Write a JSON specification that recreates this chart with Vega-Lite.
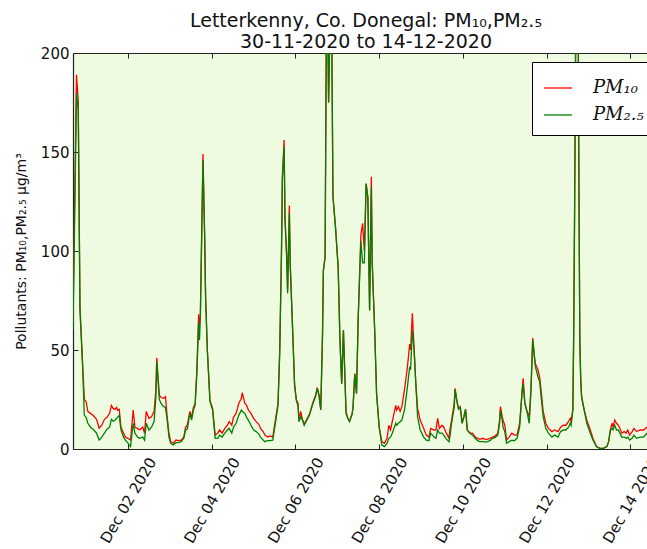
{
"$schema": "https://vega.github.io/schema/vega-lite/v6.json",
"width": 574, "height": 396,
"autosize": {"type": "none"},
"padding": {"left": 73, "top": 53, "right": 0, "bottom": 100},
"background": "white",
"config": {
  "view": {"fill": "#effbe1", "stroke": null},
  "font": "DejaVu Sans",
  "axis": {"domainColor": "#222", "domainWidth": 1.2, "tickColor": "#222", "labelColor": "#111", "labelFont": "DejaVu Sans", "labelFontSize": 15, "grid": false, "tickSize": -5, "labelFlush": false, "labelOverlap": false}
},
"title": {"text": ["Letterkenny, Co. Donegal: PM₁₀,PM₂.₅", "30-11-2020 to 14-12-2020"], "fontSize": 19, "fontWeight": "normal", "font": "DejaVu Sans", "lineHeight": 21, "offset": 3, "dx": 6, "dy": 9, "color": "#111"},
"data": {"values": [
{"t":"2020-11-30T16:30","pm10":65,"pm25":60},
{"t":"2020-11-30T18:30","pm10":189,"pm25":180},
{"t":"2020-11-30T19:30","pm10":176,"pm25":171},
{"t":"2020-11-30T20:30","pm10":72,"pm25":70},
{"t":"2020-11-30T22:00","pm10":43,"pm25":42},
{"t":"2020-11-30T23:00","pm10":25,"pm25":17},
{"t":"2020-12-01T00:00","pm10":24,"pm25":16},
{"t":"2020-12-01T01:00","pm10":19,"pm25":13},
{"t":"2020-12-01T02:30","pm10":18,"pm25":11},
{"t":"2020-12-01T04:00","pm10":17,"pm25":10},
{"t":"2020-12-01T06:00","pm10":15,"pm25":8},
{"t":"2020-12-01T07:30","pm10":10.5,"pm25":4.5},
{"t":"2020-12-01T09:00","pm10":12,"pm25":6},
{"t":"2020-12-01T10:30","pm10":15,"pm25":8},
{"t":"2020-12-01T12:00","pm10":16,"pm25":10},
{"t":"2020-12-01T13:30","pm10":18,"pm25":11},
{"t":"2020-12-01T14:30","pm10":22,"pm25":15},
{"t":"2020-12-01T15:30","pm10":20.5,"pm25":14},
{"t":"2020-12-01T16:30","pm10":20,"pm25":14.5},
{"t":"2020-12-01T17:30","pm10":21,"pm25":15.5},
{"t":"2020-12-01T18:00","pm10":19.5,"pm25":16},
{"t":"2020-12-01T19:00","pm10":20,"pm25":17},
{"t":"2020-12-01T20:00","pm10":11,"pm25":9.5},
{"t":"2020-12-01T21:30","pm10":8,"pm25":6},
{"t":"2020-12-01T22:30","pm10":6,"pm25":4.5},
{"t":"2020-12-02T00:00","pm10":5.4,"pm25":3},
{"t":"2020-12-02T01:30","pm10":4.5,"pm25":1.2},
{"t":"2020-12-02T03:00","pm10":19.7,"pm25":13},
{"t":"2020-12-02T04:00","pm10":11,"pm25":8},
{"t":"2020-12-02T05:30","pm10":10.4,"pm25":6},
{"t":"2020-12-02T06:30","pm10":9.6,"pm25":5.4},
{"t":"2020-12-02T08:30","pm10":11,"pm25":6},
{"t":"2020-12-02T09:30","pm10":8,"pm25":4.5},
{"t":"2020-12-02T10:30","pm10":19,"pm25":13},
{"t":"2020-12-02T12:00","pm10":15.5,"pm25":9.6},
{"t":"2020-12-02T13:30","pm10":16.3,"pm25":11},
{"t":"2020-12-02T15:00","pm10":19,"pm25":14},
{"t":"2020-12-02T16:00","pm10":30,"pm25":26},
{"t":"2020-12-02T16:30","pm10":46,"pm25":44},
{"t":"2020-12-02T18:00","pm10":27,"pm25":25},
{"t":"2020-12-02T19:00","pm10":26,"pm25":23},
{"t":"2020-12-02T20:30","pm10":25.6,"pm25":21.4},
{"t":"2020-12-02T21:30","pm10":26.4,"pm25":21},
{"t":"2020-12-02T22:30","pm10":16,"pm25":14.6},
{"t":"2020-12-02T23:30","pm10":8,"pm25":6},
{"t":"2020-12-03T00:30","pm10":3.7,"pm25":2.9},
{"t":"2020-12-03T02:00","pm10":2.9,"pm25":2},
{"t":"2020-12-03T03:30","pm10":4.5,"pm25":3.2},
{"t":"2020-12-03T05:00","pm10":4.2,"pm25":3.2},
{"t":"2020-12-03T06:30","pm10":4.5,"pm25":3.7},
{"t":"2020-12-03T08:00","pm10":6,"pm25":5.4},
{"t":"2020-12-03T09:00","pm10":11,"pm25":9.6},
{"t":"2020-12-03T10:00","pm10":12,"pm25":10},
{"t":"2020-12-03T11:30","pm10":19,"pm25":18},
{"t":"2020-12-03T12:30","pm10":16,"pm25":14.6},
{"t":"2020-12-03T13:30","pm10":21,"pm25":19.7},
{"t":"2020-12-03T14:30","pm10":23,"pm25":22},
{"t":"2020-12-03T15:30","pm10":40,"pm25":38},
{"t":"2020-12-03T16:30","pm10":68,"pm25":63.5},
{"t":"2020-12-03T17:00","pm10":62,"pm25":55},
{"t":"2020-12-03T17:30","pm10":67,"pm25":67},
{"t":"2020-12-03T19:00","pm10":149,"pm25":146},
{"t":"2020-12-03T20:00","pm10":107,"pm25":105},
{"t":"2020-12-03T20:30","pm10":77,"pm25":76},
{"t":"2020-12-03T21:30","pm10":50,"pm25":50},
{"t":"2020-12-03T23:00","pm10":24.7,"pm25":24},
{"t":"2020-12-04T00:30","pm10":20.5,"pm25":19.7},
{"t":"2020-12-04T02:00","pm10":7,"pm25":5.4},
{"t":"2020-12-04T03:30","pm10":8,"pm25":5.4},
{"t":"2020-12-04T04:30","pm10":9.6,"pm25":7},
{"t":"2020-12-04T06:00","pm10":8,"pm25":6},
{"t":"2020-12-04T07:30","pm10":10.4,"pm25":8},
{"t":"2020-12-04T09:00","pm10":12,"pm25":9.6},
{"t":"2020-12-04T10:00","pm10":13.8,"pm25":10.4},
{"t":"2020-12-04T11:30","pm10":12,"pm25":8},
{"t":"2020-12-04T12:30","pm10":16,"pm25":11},
{"t":"2020-12-04T14:00","pm10":18,"pm25":13},
{"t":"2020-12-04T15:30","pm10":23,"pm25":17},
{"t":"2020-12-04T17:00","pm10":25.6,"pm25":19.7},
{"t":"2020-12-04T17:30","pm10":28.5,"pm25":19},
{"t":"2020-12-04T19:00","pm10":23,"pm25":18},
{"t":"2020-12-04T20:00","pm10":22,"pm25":16},
{"t":"2020-12-04T21:00","pm10":19.7,"pm25":14.6},
{"t":"2020-12-04T22:30","pm10":18,"pm25":12},
{"t":"2020-12-05T00:00","pm10":15.5,"pm25":9.6},
{"t":"2020-12-05T01:30","pm10":13.8,"pm25":8.8},
{"t":"2020-12-05T03:00","pm10":12.5,"pm25":7.5},
{"t":"2020-12-05T04:00","pm10":10.4,"pm25":6},
{"t":"2020-12-05T05:30","pm10":8.8,"pm25":4.5},
{"t":"2020-12-05T06:30","pm10":7,"pm25":3.7},
{"t":"2020-12-05T08:00","pm10":6,"pm25":4.2},
{"t":"2020-12-05T09:30","pm10":6.6,"pm25":4.2},
{"t":"2020-12-05T11:00","pm10":6,"pm25":4.5},
{"t":"2020-12-05T12:30","pm10":14.6,"pm25":13},
{"t":"2020-12-05T14:00","pm10":23,"pm25":22},
{"t":"2020-12-05T15:00","pm10":50,"pm25":49},
{"t":"2020-12-05T16:00","pm10":100,"pm25":99},
{"t":"2020-12-05T16:30","pm10":137.5,"pm25":136},
{"t":"2020-12-05T17:30","pm10":156,"pm25":152.7},
{"t":"2020-12-05T18:00","pm10":117,"pm25":116},
{"t":"2020-12-05T19:00","pm10":97,"pm25":96},
{"t":"2020-12-05T19:30","pm10":80,"pm25":78.6},
{"t":"2020-12-05T20:30","pm10":123,"pm25":119},
{"t":"2020-12-05T21:00","pm10":94,"pm25":93},
{"t":"2020-12-05T22:30","pm10":58,"pm25":57},
{"t":"2020-12-05T23:30","pm10":33,"pm25":32},
{"t":"2020-12-06T00:30","pm10":25,"pm25":24.7},
{"t":"2020-12-06T01:30","pm10":23,"pm25":21.4},
{"t":"2020-12-06T02:00","pm10":14.5,"pm25":13.8},
{"t":"2020-12-06T03:00","pm10":19,"pm25":16.3},
{"t":"2020-12-06T04:00","pm10":15,"pm25":14.6},
{"t":"2020-12-06T05:00","pm10":12.5,"pm25":12},
{"t":"2020-12-06T06:30","pm10":15,"pm25":14.6},
{"t":"2020-12-06T08:00","pm10":17.5,"pm25":17},
{"t":"2020-12-06T10:00","pm10":23.5,"pm25":23},
{"t":"2020-12-06T11:30","pm10":27,"pm25":26.4},
{"t":"2020-12-06T12:30","pm10":31,"pm25":30.6},
{"t":"2020-12-06T13:30","pm10":27.5,"pm25":27},
{"t":"2020-12-06T14:30","pm10":20,"pm25":19.7},
{"t":"2020-12-06T15:30","pm10":57,"pm25":57},
{"t":"2020-12-06T16:00","pm10":90,"pm25":90},
{"t":"2020-12-06T17:00","pm10":97,"pm25":97},
{"t":"2020-12-06T18:00","pm10":260,"pm25":258},
{"t":"2020-12-06T19:00","pm10":175,"pm25":175},
{"t":"2020-12-06T20:30","pm10":250,"pm25":248},
{"t":"2020-12-06T21:30","pm10":128,"pm25":127},
{"t":"2020-12-06T23:00","pm10":112,"pm25":111},
{"t":"2020-12-07T00:30","pm10":92,"pm25":91},
{"t":"2020-12-07T01:30","pm10":55,"pm25":55},
{"t":"2020-12-07T02:30","pm10":33,"pm25":33},
{"t":"2020-12-07T03:30","pm10":60,"pm25":60},
{"t":"2020-12-07T05:00","pm10":19,"pm25":18},
{"t":"2020-12-07T06:00","pm10":15.5,"pm25":15.5},
{"t":"2020-12-07T07:00","pm10":14,"pm25":13.8},
{"t":"2020-12-07T08:30","pm10":18,"pm25":17.5},
{"t":"2020-12-07T09:00","pm10":21,"pm25":21},
{"t":"2020-12-07T10:00","pm10":38,"pm25":38},
{"t":"2020-12-07T11:00","pm10":28,"pm25":28},
{"t":"2020-12-07T12:00","pm10":67,"pm25":67},
{"t":"2020-12-07T13:30","pm10":108,"pm25":105},
{"t":"2020-12-07T14:30","pm10":114,"pm25":94},
{"t":"2020-12-07T15:30","pm10":100,"pm25":94},
{"t":"2020-12-07T16:30","pm10":134,"pm25":134},
{"t":"2020-12-07T17:30","pm10":127,"pm25":127},
{"t":"2020-12-07T18:30","pm10":70,"pm25":70},
{"t":"2020-12-07T19:30","pm10":137.5,"pm25":132},
{"t":"2020-12-07T20:00","pm10":94,"pm25":94},
{"t":"2020-12-07T21:30","pm10":58,"pm25":58},
{"t":"2020-12-07T22:30","pm10":28,"pm25":28},
{"t":"2020-12-08T00:00","pm10":11,"pm25":11},
{"t":"2020-12-08T01:30","pm10":3.7,"pm25":2},
{"t":"2020-12-08T03:00","pm10":2.9,"pm25":1.2},
{"t":"2020-12-08T04:30","pm10":5.4,"pm25":2.9},
{"t":"2020-12-08T05:30","pm10":12,"pm25":5.4},
{"t":"2020-12-08T06:30","pm10":9.6,"pm25":6},
{"t":"2020-12-08T07:30","pm10":13.8,"pm25":8},
{"t":"2020-12-08T09:30","pm10":22,"pm25":13},
{"t":"2020-12-08T10:00","pm10":19.7,"pm25":12},
{"t":"2020-12-08T11:00","pm10":21.4,"pm25":13},
{"t":"2020-12-08T12:00","pm10":19,"pm25":13.8},
{"t":"2020-12-08T13:00","pm10":21.4,"pm25":14.6},
{"t":"2020-12-08T14:30","pm10":30,"pm25":19.7},
{"t":"2020-12-08T16:00","pm10":40,"pm25":30},
{"t":"2020-12-08T17:30","pm10":53,"pm25":41.6},
{"t":"2020-12-08T18:00","pm10":50,"pm25":40},
{"t":"2020-12-08T19:00","pm10":68.5,"pm25":60},
{"t":"2020-12-08T20:00","pm10":51,"pm25":50},
{"t":"2020-12-08T21:00","pm10":33,"pm25":33},
{"t":"2020-12-08T22:00","pm10":20.5,"pm25":16.3},
{"t":"2020-12-08T23:30","pm10":14.6,"pm25":9.6},
{"t":"2020-12-09T01:30","pm10":10.4,"pm25":6},
{"t":"2020-12-09T03:00","pm10":7,"pm25":4.5},
{"t":"2020-12-09T04:30","pm10":6,"pm25":4.2},
{"t":"2020-12-09T05:30","pm10":10.4,"pm25":8},
{"t":"2020-12-09T07:30","pm10":9.6,"pm25":6},
{"t":"2020-12-09T08:30","pm10":9.6,"pm25":5.4},
{"t":"2020-12-09T09:30","pm10":15.5,"pm25":9.6},
{"t":"2020-12-09T10:30","pm10":10.4,"pm25":8},
{"t":"2020-12-09T12:00","pm10":12,"pm25":8},
{"t":"2020-12-09T13:00","pm10":11,"pm25":7},
{"t":"2020-12-09T14:30","pm10":8,"pm25":5},
{"t":"2020-12-09T16:00","pm10":5.4,"pm25":3.7},
{"t":"2020-12-09T16:30","pm10":9.6,"pm25":6},
{"t":"2020-12-09T17:30","pm10":14.6,"pm25":13},
{"t":"2020-12-09T19:00","pm10":23,"pm25":21},
{"t":"2020-12-09T19:30","pm10":30.6,"pm25":30},
{"t":"2020-12-09T20:30","pm10":24.7,"pm25":24},
{"t":"2020-12-09T21:30","pm10":20.5,"pm25":20},
{"t":"2020-12-09T22:30","pm10":21.4,"pm25":21},
{"t":"2020-12-09T23:30","pm10":13,"pm25":13},
{"t":"2020-12-10T00:30","pm10":16.3,"pm25":16},
{"t":"2020-12-10T01:30","pm10":20,"pm25":20},
{"t":"2020-12-10T02:30","pm10":9.6,"pm25":9.6},
{"t":"2020-12-10T04:00","pm10":8,"pm25":8},
{"t":"2020-12-10T05:30","pm10":8,"pm25":7},
{"t":"2020-12-10T07:00","pm10":6,"pm25":5.4},
{"t":"2020-12-10T08:30","pm10":5.4,"pm25":4.2},
{"t":"2020-12-10T09:30","pm10":4.9,"pm25":3.7},
{"t":"2020-12-10T11:30","pm10":5.4,"pm25":3.7},
{"t":"2020-12-10T13:00","pm10":4.9,"pm25":3.5},
{"t":"2020-12-10T14:00","pm10":4.9,"pm25":3.7},
{"t":"2020-12-10T15:30","pm10":5.4,"pm25":4.2},
{"t":"2020-12-10T17:00","pm10":6,"pm25":5.4},
{"t":"2020-12-10T18:30","pm10":6.6,"pm25":5.9},
{"t":"2020-12-10T20:00","pm10":8,"pm25":7},
{"t":"2020-12-10T21:00","pm10":14.6,"pm25":13},
{"t":"2020-12-10T21:30","pm10":21.4,"pm25":19.7},
{"t":"2020-12-10T22:30","pm10":16.3,"pm25":14.6},
{"t":"2020-12-10T23:00","pm10":14.6,"pm25":11},
{"t":"2020-12-11T00:00","pm10":12,"pm25":8.8},
{"t":"2020-12-11T01:00","pm10":4.5,"pm25":2.9},
{"t":"2020-12-11T02:30","pm10":6,"pm25":3.7},
{"t":"2020-12-11T04:00","pm10":8,"pm25":4.5},
{"t":"2020-12-11T05:30","pm10":7,"pm25":4.2},
{"t":"2020-12-11T07:00","pm10":7,"pm25":5.4},
{"t":"2020-12-11T08:30","pm10":13,"pm25":11},
{"t":"2020-12-11T10:00","pm10":30,"pm25":30},
{"t":"2020-12-11T10:30","pm10":35.7,"pm25":33},
{"t":"2020-12-11T11:30","pm10":23,"pm25":23},
{"t":"2020-12-11T12:30","pm10":19.7,"pm25":19.7},
{"t":"2020-12-11T14:00","pm10":16.3,"pm25":13},
{"t":"2020-12-11T15:00","pm10":30,"pm25":30},
{"t":"2020-12-11T16:00","pm10":56,"pm25":55},
{"t":"2020-12-11T17:00","pm10":46.6,"pm25":46},
{"t":"2020-12-11T17:30","pm10":43,"pm25":41.6},
{"t":"2020-12-11T19:00","pm10":40,"pm25":36.5},
{"t":"2020-12-11T20:00","pm10":36,"pm25":34},
{"t":"2020-12-11T21:00","pm10":28,"pm25":24.7},
{"t":"2020-12-11T22:00","pm10":19,"pm25":16.3},
{"t":"2020-12-11T23:30","pm10":13,"pm25":10.4},
{"t":"2020-12-12T01:00","pm10":10.4,"pm25":8},
{"t":"2020-12-12T03:00","pm10":8.8,"pm25":6},
{"t":"2020-12-12T04:30","pm10":9.6,"pm25":7},
{"t":"2020-12-12T06:30","pm10":8.8,"pm25":6},
{"t":"2020-12-12T08:00","pm10":11,"pm25":8.8},
{"t":"2020-12-12T09:30","pm10":12,"pm25":9.6},
{"t":"2020-12-12T11:00","pm10":12,"pm25":9.6},
{"t":"2020-12-12T12:30","pm10":13.8,"pm25":11},
{"t":"2020-12-12T13:30","pm10":15.5,"pm25":13},
{"t":"2020-12-12T14:00","pm10":13.8,"pm25":12},
{"t":"2020-12-12T15:00","pm10":20,"pm25":19.7},
{"t":"2020-12-12T15:30","pm10":60,"pm25":59},
{"t":"2020-12-12T16:00","pm10":120,"pm25":119},
{"t":"2020-12-12T16:30","pm10":190,"pm25":189},
{"t":"2020-12-12T17:00","pm10":280,"pm25":278},
{"t":"2020-12-12T18:00","pm10":230,"pm25":228},
{"t":"2020-12-12T18:30","pm10":130,"pm25":129},
{"t":"2020-12-12T19:00","pm10":55,"pm25":54},
{"t":"2020-12-12T19:30","pm10":36,"pm25":35},
{"t":"2020-12-12T20:00","pm10":27,"pm25":26},
{"t":"2020-12-12T21:30","pm10":19.7,"pm25":19.7},
{"t":"2020-12-12T23:00","pm10":14.6,"pm25":13},
{"t":"2020-12-13T01:00","pm10":9.6,"pm25":8},
{"t":"2020-12-13T02:30","pm10":5.4,"pm25":4.5},
{"t":"2020-12-13T04:30","pm10":1.2,"pm25":1.2},
{"t":"2020-12-13T06:30","pm10":0.3,"pm25":0.3},
{"t":"2020-12-13T08:30","pm10":0.3,"pm25":0.3},
{"t":"2020-12-13T10:30","pm10":1.2,"pm25":1.2},
{"t":"2020-12-13T11:30","pm10":3.7,"pm25":3.7},
{"t":"2020-12-13T12:30","pm10":9.6,"pm25":9.6},
{"t":"2020-12-13T13:30","pm10":13,"pm25":10.4},
{"t":"2020-12-13T14:00","pm10":11,"pm25":9.6},
{"t":"2020-12-13T15:00","pm10":14.6,"pm25":12},
{"t":"2020-12-13T16:00","pm10":13,"pm25":9.6},
{"t":"2020-12-13T17:00","pm10":12,"pm25":9.6},
{"t":"2020-12-13T18:00","pm10":10.4,"pm25":8},
{"t":"2020-12-13T19:00","pm10":8,"pm25":6},
{"t":"2020-12-13T20:30","pm10":8.8,"pm25":6},
{"t":"2020-12-13T21:30","pm10":8,"pm25":5.4},
{"t":"2020-12-13T22:30","pm10":9.6,"pm25":6},
{"t":"2020-12-13T23:30","pm10":7,"pm25":4.5},
{"t":"2020-12-14T01:00","pm10":8.8,"pm25":5.4},
{"t":"2020-12-14T02:00","pm10":10.4,"pm25":7},
{"t":"2020-12-14T03:30","pm10":8.8,"pm25":5.4},
{"t":"2020-12-14T05:30","pm10":9.6,"pm25":6},
{"t":"2020-12-14T07:30","pm10":9.6,"pm25":6},
{"t":"2020-12-14T09:30","pm10":11,"pm25":8},
{"t":"2020-12-14T10:30","pm10":11,"pm25":8}
]},
"layer": [
  {
    "transform": [{"fold": ["pm10", "pm25"], "as": ["series", "value"]}],
    "mark": {"type": "line", "clip": true, "strokeWidth": 1.3},
    "encoding": {
      "x": {"field": "t", "type": "temporal",
        "scale": {"domain": [{"year": 2020, "month": "nov", "date": 30, "hours": 16, "minutes": 30}, {"year": 2020, "month": "dec", "date": 14, "hours": 9, "minutes": 30}]},
        "axis": {"title": null, "format": "%b %d %Y", "labelAngle": -60, "labelAlign": "center", "labelBaseline": "middle", "labelPadding": 56,
          "values": [{"year": 2020, "month": "dec", "date": 2}, {"year": 2020, "month": "dec", "date": 4}, {"year": 2020, "month": "dec", "date": 6}, {"year": 2020, "month": "dec", "date": 8}, {"year": 2020, "month": "dec", "date": 10}, {"year": 2020, "month": "dec", "date": 12}, {"year": 2020, "month": "dec", "date": 14}]}},
      "y": {"field": "value", "type": "quantitative", "scale": {"domain": [0, 200], "nice": false},
        "axis": {"title": "Pollutants: PM₁₀,PM₂.₅ μg/m³", "values": [0, 50, 100, 150, 200], "labelPadding": 9, "titleFontSize": 14, "titleFontWeight": "normal", "titleFont": "DejaVu Sans", "titleColor": "#111", "titleX": -45, "titleY": 198, "titleAngle": -90, "titleAlign": "center", "titleBaseline": "bottom"}},
      "color": {"field": "series", "type": "nominal",
        "scale": {"domain": ["pm10", "pm25"], "range": ["#ff0000", "#008000"]},
        "legend": {"title": null, "orient": "none", "legendX": 459, "legendY": 9, "symbolType": "stroke", "symbolSize": 784, "symbolStrokeWidth": 1.3,
          "labelFont": "DejaVu Serif", "labelFontStyle": "italic", "labelFontSize": 18, "labelColor": "#111", "labelOffset": 20, "padding": 11, "rowPadding": 3,
          "strokeColor": "#000", "fillColor": "#ffffff", "cornerRadius": 0,
          "labelExpr": "datum.label == 'pm10' ? 'PM₁₀' : 'PM₂.₅'"}}
    }
  },
  {
    "mark": {"type": "point", "opacity": 0},
    "encoding": {
      "x": {"field": "t", "type": "temporal",
        "axis": {"orient": "top", "title": null, "labels": false,
          "values": [{"year": 2020, "month": "dec", "date": 2}, {"year": 2020, "month": "dec", "date": 4}, {"year": 2020, "month": "dec", "date": 6}, {"year": 2020, "month": "dec", "date": 8}, {"year": 2020, "month": "dec", "date": 10}, {"year": 2020, "month": "dec", "date": 12}, {"year": 2020, "month": "dec", "date": 14}]}}
    }
  }
],
"resolve": {"axis": {"x": "independent"}}
}
